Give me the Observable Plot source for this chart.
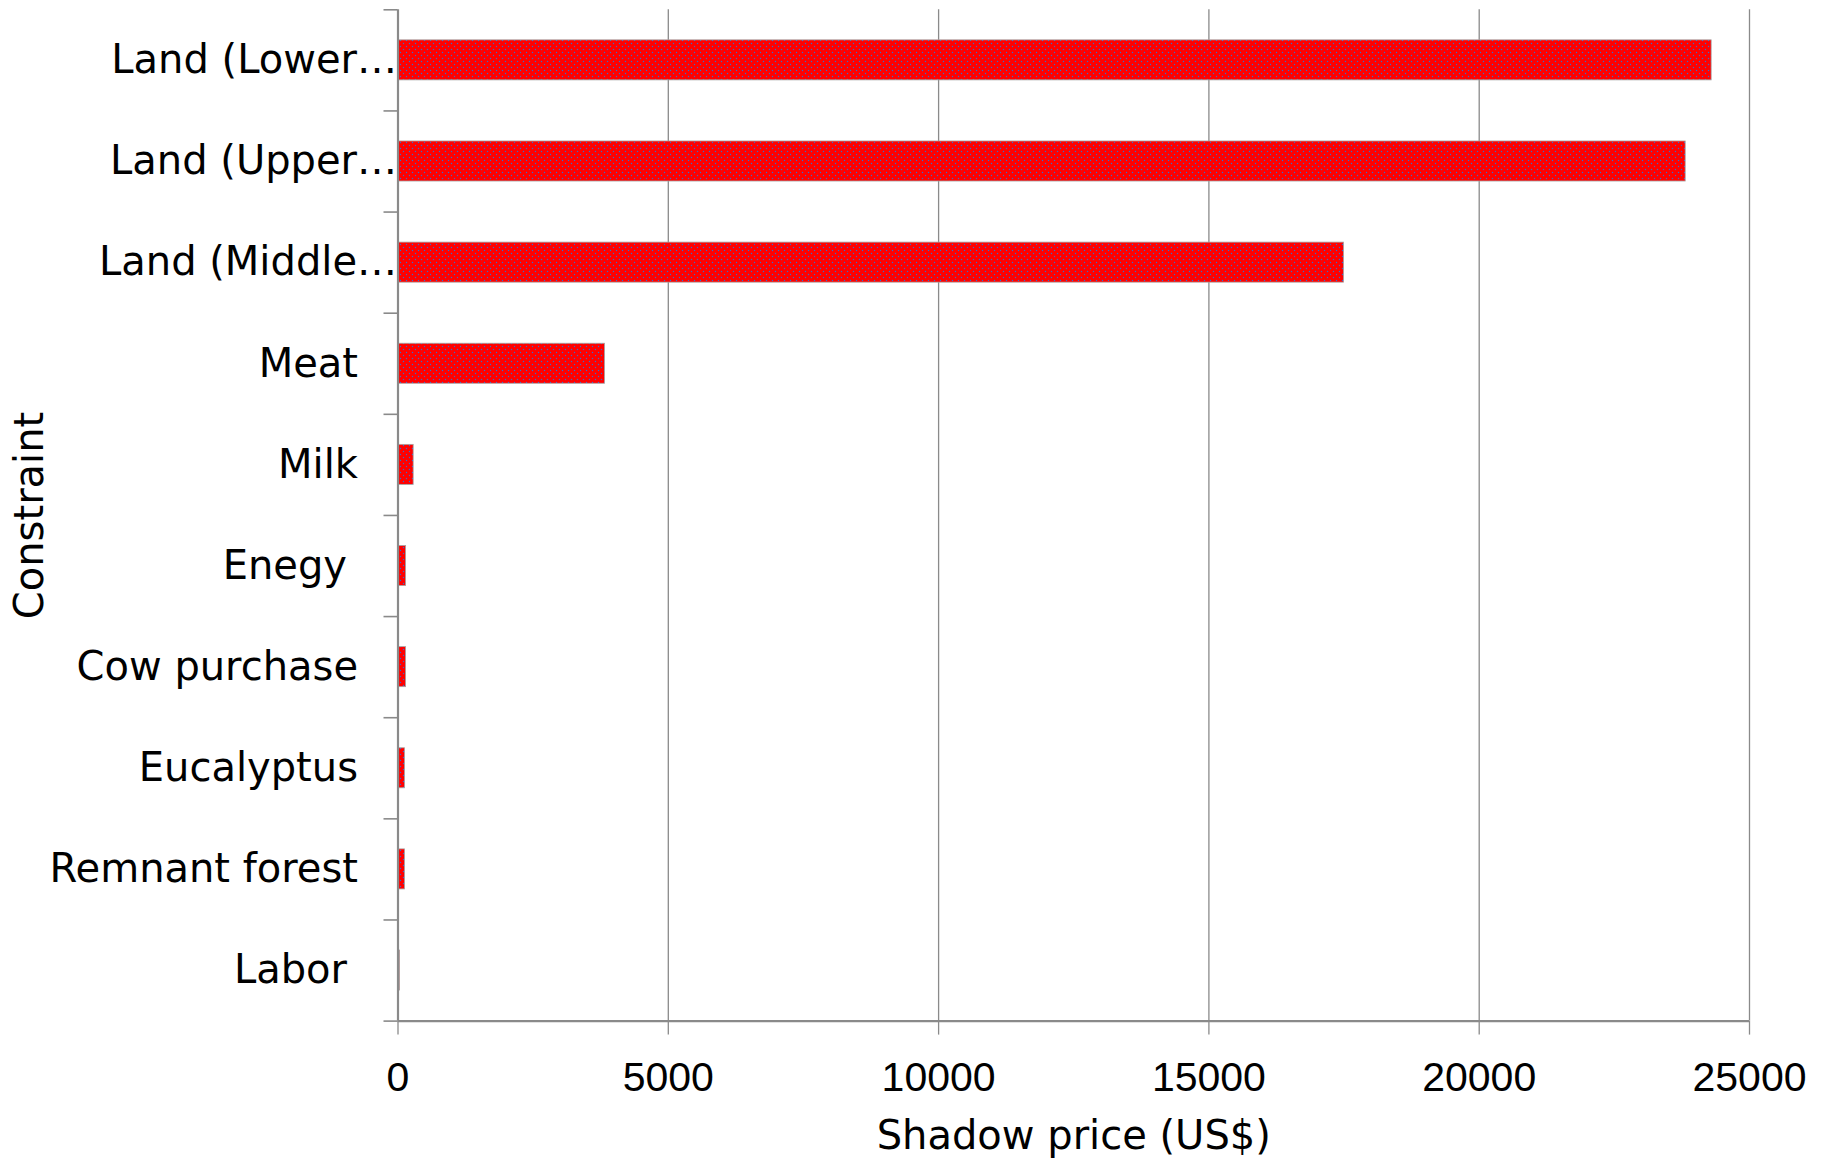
<!DOCTYPE html>
<html>
<head>
<meta charset="utf-8">
<script src="https://cdn.jsdelivr.net/npm/d3@7"></script>
<script src="https://cdn.jsdelivr.net/npm/@observablehq/plot@0.6"></script>
<style>
  html, body { margin: 0; padding: 0; background: #fff; }
  #chart svg { display: block; }
</style>
</head>
<body>
<div id="chart"></div>
<script>
// ---- data ----
const categories = [
  "Land (Lower…",
  "Land (Upper…",
  "Land (Middle…",
  "Meat",
  "Milk",
  "Enegy",
  "Cow purchase",
  "Eucalyptus",
  "Remnant forest",
  "Labor"
];
const values = [24300, 23820, 17500, 3830, 290, 150, 150, 130, 130, 35];
const xTicks = [0, 5000, 10000, 15000, 20000, 25000];
const xTitle = "Shadow price (US$)";
const yTitle = "Constraint";

// groups of labels that sit at different distances from the axis in the original
const groupNearAxis = ["Land (Lower…", "Land (Upper…", "Land (Middle…"];
const groupFar = ["Enegy", "Labor"];

const rows = categories.map((c, i) => ({ constraint: c, index: i, value: values[i] }));
const idx = c => categories.indexOf(c);
const midIdx = categories.filter(c => !groupNearAxis.includes(c) && !groupFar.includes(c)).map(idx);
const nearIdx = groupNearAxis.map(idx);
const farIdx = groupFar.map(idx);
const boundaries = d3.range(-0.5, categories.length, 1);

const W = 1833, H = 1165;
const grey = "#8a8a8a";
const catFont = "DejaVu Sans";
const numFont = "Liberation Sans";

const plot = Plot.plot({
  width: W,
  height: H,
  marginLeft: 397.5,
  marginRight: 84,
  marginTop: 9.3,
  marginBottom: 144.4,
  style: { background: "#fff", color: "#000", overflow: "visible" },
  x: { domain: [0, 25000] },
  y: { domain: [-0.5, categories.length - 0.5], reverse: true },
  marks: [
    Plot.gridX(xTicks.filter(t => t > 0), { stroke: grey, strokeOpacity: 1, strokeWidth: 1.3 }),
    Plot.rect(rows, {
      x1: 0,
      x2: "value",
      y1: d => d.index - 0.198,
      y2: d => d.index + 0.198,
      fill: "url(#dots)",
      stroke: "#a5a5a5",
      strokeWidth: 0.8
    }),
    // category boundary ticks (Excel-style)
    Plot.axisY(boundaries, { tickSize: 14, tickFormat: () => "", stroke: grey, strokeWidth: 1.6, label: null }),
    // category labels
    Plot.axisY(nearIdx, { tickSize: 0, tickPadding: 1, tickFormat: i => categories[i], fontSize: 40, fontFamily: catFont, fill: "#000", label: null }),
    Plot.axisY(midIdx, { tickSize: 0, tickPadding: 40, tickFormat: i => categories[i], fontSize: 40, fontFamily: catFont, fill: "#000", label: null }),
    Plot.axisY(farIdx, { tickSize: 0, tickPadding: 51, tickFormat: i => categories[i], fontSize: 40, fontFamily: catFont, fill: "#000", label: null }),
    // x axis
    Plot.axisX(xTicks, { tickSize: 14, tickPadding: 27, tickFormat: d3.format("d"), stroke: grey, strokeWidth: 1.3, fontSize: 41, fontFamily: numFont, fill: "#000", label: null }),
    Plot.ruleX([0], { stroke: grey, strokeWidth: 2.2 }),
    Plot.ruleY([categories.length - 0.5], { stroke: grey, strokeWidth: 2.2 }),
    // axis titles
    Plot.text([xTitle], { frameAnchor: "bottom", dy: 115, lineAnchor: "middle", textAnchor: "middle", fontSize: 40, fontFamily: catFont, fill: "#000" }),
    Plot.text([yTitle], { frameAnchor: "left", dx: -367.5, rotate: -90, lineAnchor: "middle", textAnchor: "middle", fontSize: 40, fontFamily: catFont, fill: "#000" })
  ]
});

// dotted red fill pattern like the original bars
const svg = d3.select(plot.tagName.toLowerCase() === "svg" ? plot : plot.querySelector("svg"));
const defs = svg.insert("defs", ":first-child");
const pat = defs.append("pattern")
  .attr("id", "dots")
  .attr("patternUnits", "userSpaceOnUse")
  .attr("width", 6)
  .attr("height", 6);
pat.append("rect").attr("width", 6).attr("height", 6).attr("fill", "#ff0000");
pat.append("circle").attr("cx", 1.5).attr("cy", 1.5).attr("r", 0.7).attr("fill", "#2f6fd0");
pat.append("circle").attr("cx", 4.5).attr("cy", 4.5).attr("r", 0.7).attr("fill", "#2f6fd0");

document.getElementById("chart").appendChild(plot);
</script>
</body>
</html>
